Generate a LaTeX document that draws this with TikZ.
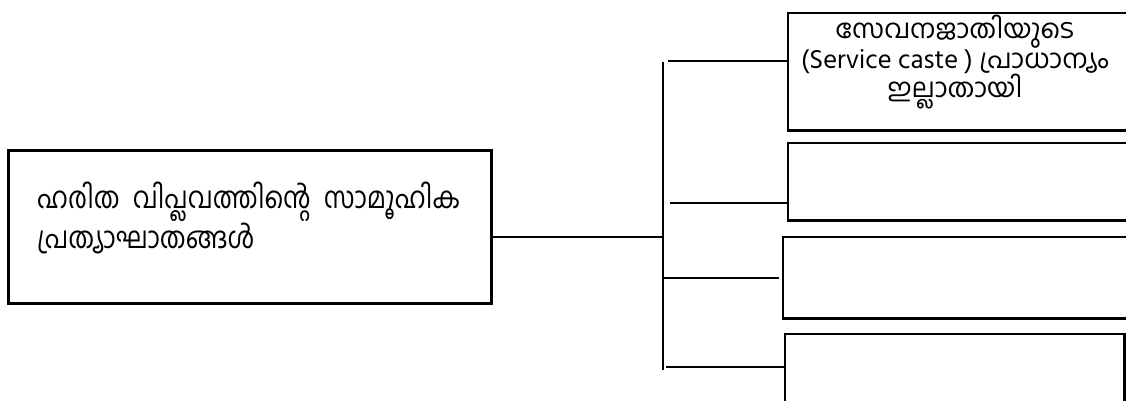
\documentclass[tikz,border=0pt]{standalone}
\usepackage{fontspec}
\newfontfamily\ml[Script=Malayalam]{Hind Kochi}
\newfontfamily\mlt[Script=Malayalam, FakeStretch=0.85]{Hind Kochi}
\usetikzlibrary{calc}
\tikzset{
  ln/.style={line width=2.8pt, draw=black},
  txt/.style={font=\ml, inner sep=0pt}
}
\begin{document}
\begin{tikzpicture}[x=1pt,y=-1pt]
\useasboundingbox (0,0) rectangle (1126,401);
\clip (0,0) rectangle (1126,401);
% main box
\node[ln, draw, rectangle, minimum width=483pt, minimum height=153pt, anchor=north west, inner sep=0pt] (main) at (7,149) {};
\node[txt, text width=423pt, align=justify, anchor=north west, font=\mlt\fontsize{30}{31}\selectfont] (maintxt) at (37,182) {ഹരിത വിപ്ലവത്തിന്റെ സാമൂഹിക പ്രത്യാഘാതങ്ങൾ};
% right boxes (open to the right)
\node[inner sep=0pt, minimum width=347pt, minimum height=117pt, anchor=north west] (b1) at (788,13) {};
\node[inner sep=0pt, minimum width=347pt, minimum height=77pt, anchor=north west] (b2) at (788,143) {};
\node[inner sep=0pt, minimum width=352pt, minimum height=81pt, anchor=north west] (b3) at (783,237) {};
\node[inner sep=0pt, minimum width=339pt, minimum height=80pt, anchor=north west] (b4) at (785,334) {};
\draw[ln] (b1.north east) -- (b1.north west) -- (b1.south west) -- (b1.south east);
\draw[ln] (b2.north east) -- (b2.north west) -- (b2.south west) -- (b2.south east);
\draw[ln] (b3.north east) -- (b3.north west) -- (b3.south west) -- (b3.south east);
\draw[ln] (b4.south west) -- (b4.north west) -- (b4.north east) -- (b4.south east);
\node[txt, align=center, font=\ml\fontsize{26.5}{27}\selectfont] (b1txt) at (955,62) {സേവനജാതിയുടെ\\(Service caste ) പ്രാധാന്യം\\ഇല്ലാതായി};
% trunk
\coordinate (ttop) at (663,62);
\coordinate (tbot) at (663,370);
\coordinate (tmid) at (663,237);
\draw[ln] (ttop) -- (tbot);
\draw[ln] (main.east |- tmid) -- (tmid);
\coordinate (s1) at (668,61);
\coordinate (s2) at (670,203);
\coordinate (s3) at (663,278);
\coordinate (s4) at (666,367);
\coordinate (e3) at (779,278);
\draw[ln] (s1) -- (b1.west |- s1);
\draw[ln] (s2) -- (b2.west |- s2);
\draw[ln] (s3) -- (e3);
\draw[ln] (s4) -- (b4.west |- s4);
\end{tikzpicture}
\end{document}
